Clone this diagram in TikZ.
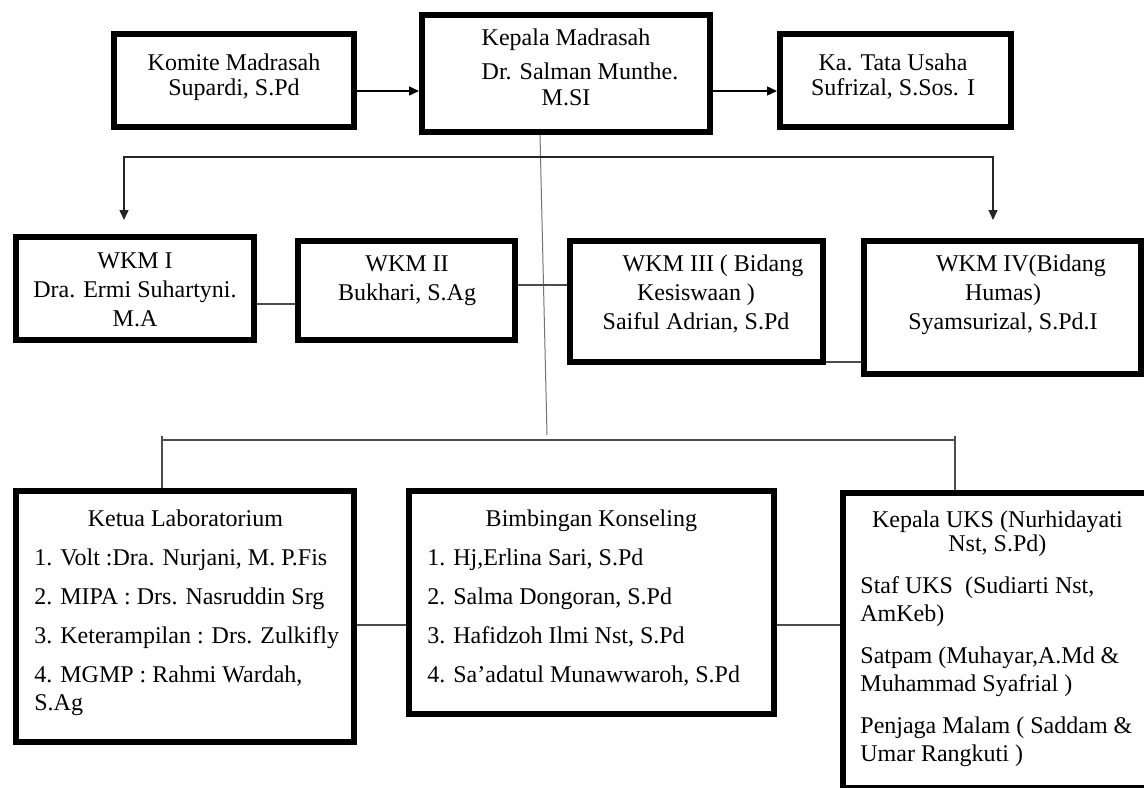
\documentclass[tikz,border=0pt]{standalone}
\usepackage{fontspec}
\setmainfont{Liberation Serif}
\usetikzlibrary{arrows.meta,fit}

\tikzset{
  post/.style={draw, line width=3pt, inner sep=0pt},
  txt/.style={inner sep=0pt, align=center, anchor=north, font=\fontsize{12}{14.5}\selectfont},
  list/.style={inner sep=0pt, align=left, anchor=north west, font=\fontsize{12}{14}\selectfont},
  link/.style={draw=black!70, line width=0.7pt},
  trunk/.style={draw=black!55, line width=0.5pt}
}

\begin{document}
\begin{tikzpicture}[x=0.5pt, y=-0.5pt, >={Triangle[length=5pt,width=4.5pt]}]
    \useasboundingbox (0,0) rectangle (1144,787);
    \clip (0,0) rectangle (1144,787);

    % boxes
    \node[post, fit={(114,34) (354,127)}] (komite) {};
    \node[post, fit={(422,15) (710,132)}] (kepala) {};
    \node[post, fit={(780,34) (1011,127)}] (tu) {};
    \node[post, fit={(16,237) (254,340)}] (wkm1) {};
    \node[post, fit={(298,241) (515,340)}] (wkm2) {};
    \node[post, fit={(570,241) (823,362)}] (wkm3) {};
    \node[post, fit={(864,241) (1141,374)}] (wkm4) {};
    \node[post, fit={(16,491) (354,742)}] (lab) {};
    \node[post, fit={(409,491) (774,714)}] (bk) {};
    \node[post, fit={(843,493) (1150,788)}] (uks) {};

    % texts
    \node[txt, font=\fontsize{12}{12.5}\selectfont] (komiteT) at (234,53.6) {Komite Madrasah\\Supardi, S.Pd};
    \node[txt, font=\fontsize{12}{13}\selectfont] (kepalaT) at (566,28.6) {Kepala Madrasah\\[4pt]\hspace*{14pt}Dr. Salman Munthe.\\M.SI};
    \node[txt, font=\fontsize{12}{12.5}\selectfont] (tuT) at (893,53.6) {Ka. Tata Usaha\\Sufrizal, S.Sos. I};
    \node[txt] (wkm1T) at (135,252) {WKM I\\Dra. Ermi Suhartyni.\\M.A};
    \node[txt] (wkm2T) at (407,255) {WKM II\\Bukhari, S.Ag};
    \node[txt] (wkm3T) at (696,254.6) {\hspace*{17pt}WKM III ( Bidang\\Kesiswaan )\\Saiful Adrian, S.Pd};
    \node[txt] (wkm4T) at (1003,254.6) {\hspace*{18pt}WKM IV(Bidang\\Humas)\\Syamsurizal, S.Pd.I};

    \node[list] (labT) at (34,509.6) {\makebox[151pt]{Ketua Laboratorium}\\[5.5pt]
        1. Volt :Dra. Nurjani, M. P.Fis\\[5.5pt]
        2. MIPA : Drs. Nasruddin Srg\\[5.5pt]
        3. Keterampilan : Drs. Zulkifly\\[5.5pt]
        4. MGMP : Rahmi Wardah,\\S.Ag};
    \node[list] (bkT) at (427,509.6) {\makebox[164pt]{Bimbingan Konseling}\\[5.5pt]
        1. Hj,Erlina Sari, S.Pd\\[5.5pt]
        2. Salma Dongoran, S.Pd\\[5.5pt]
        3. Hafidzoh Ilmi Nst, S.Pd\\[5.5pt]
        4. Sa’adatul Munawwaroh, S.Pd};
    \node[list] (uksT) at (860,510.6) {\makebox[137pt]{Kepala UKS (Nurhidayati}\\[-2pt]
        \makebox[137pt]{Nst, S.Pd)}\\[7pt]
        Staf UKS\ \ (Sudiarti Nst,\\AmKeb)\\[7pt]
        Satpam (Muhayar,A.Md \&\\Muhammad Syafrial )\\[7pt]
        Penjaga Malam ( Saddam \&\\Umar Rangkuti )};

    % top row
    \coordinate (rowA) at (0,91);
    \draw[link, draw=black, ->] (komite.east |- rowA) -- (kepala.west |- rowA);
    \draw[link, draw=black, ->] (kepala.east |- rowA) -- (tu.west |- rowA);

    % trunk from the head down
    \coordinate (trunkA) at (540,0);
    \coordinate (trunkB) at (547,435);
    \draw[trunk] (kepala.south -| trunkA) -- (trunkB);

    % deputies
    \coordinate (splitL) at (124,157);
    \coordinate (splitR) at (993,157);
    \coordinate (tipL) at (124,220);
    \coordinate (tipR) at (993,220);
    \draw[link, draw=black!85, <->] (tipL) -- (splitL) -- (splitR) -- (tipR);

    \coordinate (rowB) at (0,304);
    \coordinate (rowC) at (0,285);
    \coordinate (rowD) at (0,362);
    \draw[link] (wkm1.east |- rowB) -- (wkm2.west |- rowB);
    \draw[link] (wkm2.east |- rowC) -- (wkm3.west |- rowC);
    \draw[link] (wkm3.east |- rowD) -- (wkm4.west |- rowD);

    % staff
    \coordinate (busL) at (162,440);
    \coordinate (busR) at (955,440);
    \coordinate (tickL) at (162,436);
    \coordinate (tickR) at (955,436);
    \draw[link] (busL) -- (busR);
    \draw[link] (tickL) -- (lab.north -| tickL);
    \draw[link] (tickR) -- (uks.north -| tickR);

    \coordinate (rowE) at (0,625);
    \draw[link] (lab.east |- rowE) -- (bk.west |- rowE);
    \draw[link] (bk.east |- rowE) -- (uks.west |- rowE);
\end{tikzpicture}
\end{document}
